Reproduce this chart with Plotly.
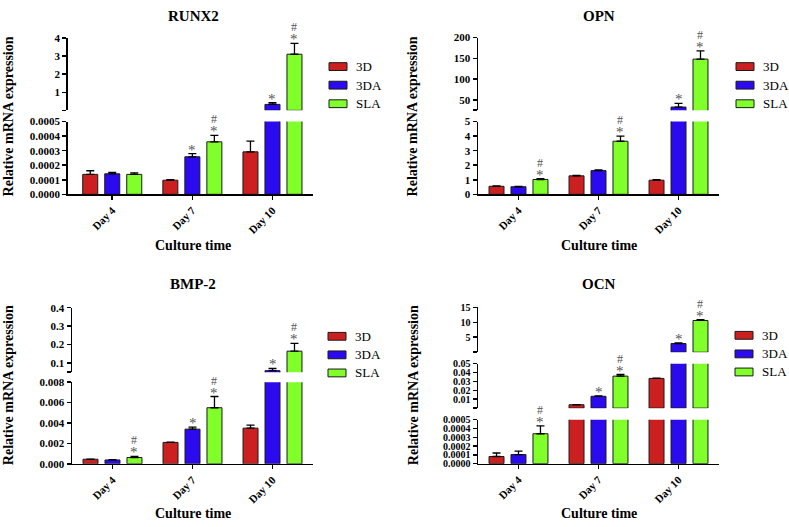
import plotly.graph_objects as go

# ---------------- data ----------------
categories = ['Day 4', 'Day 7', 'Day 10']
series_names = ['3D', '3DA', 'SLA']

runx2_3d = [0.000137, 0.000097, 0.000292]
runx2_3d_err = [0.000025, 0.000004, 0.000074]
runx2_3da = [0.000141, 0.000258, 0.33]
runx2_3da_err = [0.000010, 0.000022, 0.09]
runx2_sla = [0.000137, 0.000361, 3.10]
runx2_sla_err = [0.000010, 0.000045, 0.60]
runx2_marks = [(1, 1, '*'), (1, 2, '#*'), (2, 1, '*'), (2, 2, '#*')]

opn_3d = [0.55, 1.27, 0.97]
opn_3d_err = [0.03, 0.03, 0.03]
opn_3da = [0.52, 1.63, 32.5]
opn_3da_err = [0.02, 0.05, 9.0]
opn_sla = [1.02, 3.65, 148.0]
opn_sla_err = [0.06, 0.35, 20.0]
opn_marks = [(0, 2, '#*'), (1, 2, '#*'), (2, 1, '*'), (2, 2, '#*')]

bmp2_3d = [0.00045, 0.0021, 0.0035]
bmp2_3d_err = [0.00002, 0.00003, 0.0003]
bmp2_3da = [0.00038, 0.0034, 0.058]
bmp2_3da_err = [0.00002, 0.0002, 0.012]
bmp2_sla = [0.00062, 0.0055, 0.164]
bmp2_sla_err = [0.00010, 0.0011, 0.042]
bmp2_marks = [(0, 2, '#*'), (1, 1, '*'), (1, 2, '#*'), (2, 1, '*'), (2, 2, '#*')]

ocn_3d = [0.000081, 0.0038, 0.0334]
ocn_3d_err = [0.00004, 0.0002, 0.0004]
ocn_3da = [0.000103, 0.0133, 2.9]
ocn_3da_err = [0.00004, 0.0005, 0.2]
ocn_sla = [0.00034, 0.0360, 10.6]
ocn_sla_err = [0.00009, 0.0018, 0.3]
ocn_marks = [(0, 2, '#*'), (1, 1, '*'), (1, 2, '#*'), (2, 1, '*'), (2, 2, '#*')]

runx2_lo_ticks = [0, 0.0001, 0.0002, 0.0003, 0.0004, 0.0005]
runx2_lo_text = ['0.0000', '0.0001', '0.0002', '0.0003', '0.0004', '0.0005']
runx2_hi_ticks = [0, 1, 2, 3, 4]
runx2_hi_text = ['', '1', '2', '3', '4']
opn_lo_ticks = [0, 1, 2, 3, 4, 5]
opn_lo_text = ['0', '1', '2', '3', '4', '5']
opn_hi_ticks = [25, 50, 100, 150, 200]
opn_hi_text = ['', '50', '100', '150', '200']
bmp2_lo_ticks = [0, 0.002, 0.004, 0.006, 0.008]
bmp2_lo_text = ['0.000', '0.002', '0.004', '0.006', '0.008']
bmp2_hi_ticks = [0.05, 0.1, 0.2, 0.3, 0.4]
bmp2_hi_text = ['', '0.1', '0.2', '0.3', '0.4']
ocn_lo_ticks = [0, 0.0001, 0.0002, 0.0003, 0.0004, 0.0005]
ocn_lo_text = ['0.0000', '0.0001', '0.0002', '0.0003', '0.0004', '0.0005']
ocn_mid_ticks = [0, 0.01, 0.02, 0.03, 0.04, 0.05]
ocn_mid_text = ['', '0.01', '0.02', '0.03', '0.04', '0.05']
ocn_hi_ticks = [0, 5, 10, 15]
ocn_hi_text = ['', '5', '10', '15']

# ---------------- layout helpers ----------------
W, H = 789, 527
COLORS = ['#cc1f1f', '#2b0af0', '#80ff2a']
FONT = 'Liberation Serif, Times New Roman, serif'
BARGAP = 0.176
BARGROUPGAP = 0.318
SLOT = (1 - BARGAP) / 3


def px(x):
    return x / W


def py(y):
    return 1 - y / H


panels = [
    dict(title='RUNX2',
         values=[runx2_3d, runx2_3da, runx2_sla],
         errors=[runx2_3d_err, runx2_3da_err, runx2_sla_err],
         marks=runx2_marks, tickfont=11,
         xpx=(67.7, 313), xrange=(-0.556, 2.506),
         segments=[dict(range=(0, 0.0005), px=(192.7, 118.3), ticks=runx2_lo_ticks, text=runx2_lo_text),
                   dict(range=(0, 4), px=(106.8, 32.7), ticks=runx2_hi_ticks, text=runx2_hi_text)],
         title_xy=(193, 10), xtitle_y=245, ytitle_xy=(8, 113), legend_x=329, legend_y=(62, 81, 100)),
    dict(title='OPN',
         values=[opn_3d, opn_3da, opn_sla],
         errors=[opn_3d_err, opn_3da_err, opn_sla_err],
         marks=opn_marks, tickfont=11,
         xpx=(478, 719), xrange=(-0.506, 2.506),
         segments=[dict(range=(0, 5), px=(192.7, 118.3), ticks=opn_lo_ticks, text=opn_lo_text),
                   dict(range=(25, 200), px=(106.6, 32.3), ticks=opn_hi_ticks, text=opn_hi_text)],
         title_xy=(599, 10), xtitle_y=245, ytitle_xy=(412, 113), legend_x=736, legend_y=(62, 81, 100)),
    dict(title='BMP-2',
         values=[bmp2_3d, bmp2_3da, bmp2_sla],
         errors=[bmp2_3d_err, bmp2_3da_err, bmp2_sla_err],
         marks=bmp2_marks, tickfont=11,
         xpx=(72, 313), xrange=(-0.506, 2.506),
         segments=[dict(range=(0, 0.008), px=(468.5, 385), ticks=bmp2_lo_ticks, text=bmp2_lo_text),
                   dict(range=(0.05, 0.4), px=(374.7, 308.7), ticks=bmp2_hi_ticks, text=bmp2_hi_text)],
         title_xy=(193, 284), xtitle_y=519, ytitle_xy=(8, 388), legend_x=328, legend_y=(338, 357, 375.5)),
    dict(title='OCN',
         values=[ocn_3d, ocn_3da, ocn_sla],
         errors=[ocn_3d_err, ocn_3da_err, ocn_sla_err],
         marks=ocn_marks, tickfont=10,
         xpx=(478, 719), xrange=(-0.506, 2.506),
         segments=[dict(range=(0, 0.0005), px=(468.3, 423.3), ticks=ocn_lo_ticks, text=ocn_lo_text),
                   dict(range=(0, 0.05), px=(411.5, 366), ticks=ocn_mid_ticks, text=ocn_mid_text),
                   dict(range=(0, 15), px=(354.3, 308.3), ticks=ocn_hi_ticks, text=ocn_hi_text)],
         title_xy=(599, 284), xtitle_y=519, ytitle_xy=(413, 388), legend_x=735, legend_y=(337, 356, 374.5)),
]

fig = go.Figure()
layout = dict(width=W, height=H, autosize=False,
              margin=dict(l=0, r=0, t=0, b=0),
              paper_bgcolor='white', plot_bgcolor='white',
              barmode='group', bargap=BARGAP, bargroupgap=BARGROUPGAP,
              showlegend=False,
              font=dict(family=FONT, color='black'))
annotations = []
shapes = []

xi = 0
yi = 0
for pi, p in enumerate(panels):
    xi += 1
    xname = 'x' if xi == 1 else f'x{xi}'
    xkey = 'xaxis' if xi == 1 else f'xaxis{xi}'
    seg_axes = []
    for si, seg in enumerate(p['segments']):
        yi += 1
        yname = 'y' if yi == 1 else f'y{yi}'
        ykey = 'yaxis' if yi == 1 else f'yaxis{yi}'
        seg_axes.append(yname)
        layout[ykey] = dict(domain=[py(seg['px'][0]), py(seg['px'][1])],
                            range=list(seg['range']), anchor=xname,
                            tickmode='array', tickvals=seg['ticks'], ticktext=seg['text'],
                            showline=True, linecolor='black', linewidth=1.5,
                            ticks='outside', ticklen=4, tickwidth=1.5, tickcolor='black',
                            showgrid=False, zeroline=False, fixedrange=True,
                            tickfont=dict(family=FONT, size=p['tickfont'], color='black', weight='bold'))
        if si == 0:
            layout[xkey] = dict(domain=[px(p['xpx'][0]), px(p['xpx'][1])],
                                type='category', categoryorder='array', categoryarray=categories,
                                range=list(p['xrange']), anchor=yname,
                                showline=True, linecolor='black', linewidth=1.5,
                                ticks='outside', ticklen=4, tickwidth=1.5, tickcolor='black',
                                tickangle=-45, showgrid=False, zeroline=False, fixedrange=True,
                                tickfont=dict(family=FONT, size=11, color='black', weight='bold'))
        lower_top = p['segments'][si - 1]['range'][1] if si > 0 else None
        for k in range(3):
            vals = p['values'][k]
            errs = p['errors'][k]
            if lower_top is None:
                yv = list(vals)
            else:
                yv = [v if v > lower_top else None for v in vals]
            fig.add_trace(go.Bar(
                x=categories, y=yv, name=series_names[k],
                xaxis=xname, yaxis=yname, showlegend=False,
                marker=dict(color=COLORS[k], line=dict(color='#1a1a1a', width=1)),
                error_y=dict(type='data', symmetric=False, array=errs, arrayminus=[0, 0, 0],
                             color='black', thickness=1.3, width=4),
                hoverinfo='skip'))

    # significance marks
    for (ci, k, txt) in p['marks']:
        top = p['values'][k][ci] + p['errors'][k][ci]
        seg_idx = len(p['segments']) - 1
        for si, seg in enumerate(p['segments']):
            if top <= seg['range'][1]:
                seg_idx = si
                break
        yref = seg_axes[seg_idx]
        xpos = ci + (k - 1) * SLOT
        annotations.append(dict(x=xpos, y=top, xref=xname, yref=yref, text='*',
                                showarrow=False, yanchor='middle', yshift=4,
                                font=dict(family=FONT, size=15, color='#555')))
        if '#' in txt:
            annotations.append(dict(x=xpos, y=top, xref=xname, yref=yref, text='#',
                                    showarrow=False, yanchor='middle', yshift=16,
                                    font=dict(family=FONT, size=12, color='#555')))

    # titles
    tx, ty = p['title_xy']
    annotations.append(dict(x=px(tx), y=py(ty), xref='paper', yref='paper', text=f"<b>{p['title']}</b>",
                            showarrow=False, xanchor='center', yanchor='middle',
                            font=dict(family=FONT, size=15, color='black')))
    annotations.append(dict(x=px(tx), y=py(p['xtitle_y']), xref='paper', yref='paper',
                            text='<b>Culture time</b>', showarrow=False,
                            xanchor='center', yanchor='middle',
                            font=dict(family=FONT, size=14, color='black')))
    yx, yy = p['ytitle_xy']
    annotations.append(dict(x=px(yx), y=py(yy), xref='paper', yref='paper',
                            text='<b>Relative mRNA expression</b>', showarrow=False, textangle=-90,
                            xanchor='center', yanchor='middle',
                            font=dict(family=FONT, size=14, color='black')))
    # legend (key)
    lx = p['legend_x']
    for k in range(3):
        cy = p['legend_y'][k]
        shapes.append(dict(type='rect', xref='paper', yref='paper',
                           x0=px(lx), x1=px(lx + 18), y0=py(cy + 4), y1=py(cy - 4),
                           fillcolor=COLORS[k], line=dict(color='#1a1a1a', width=1)))
        annotations.append(dict(x=px(lx + 25), y=py(cy), xref='paper', yref='paper',
                                text=series_names[k], showarrow=False,
                                xanchor='left', yanchor='middle',
                                font=dict(family=FONT, size=13, color='black')))

layout['annotations'] = annotations
layout['shapes'] = shapes
fig.update_layout(**layout)
fig.write_html('out.html',
               config={'displayModeBar': False, 'staticPlot': True},
               post_script="document.body.style.margin='0';document.body.style.overflow='hidden';")
